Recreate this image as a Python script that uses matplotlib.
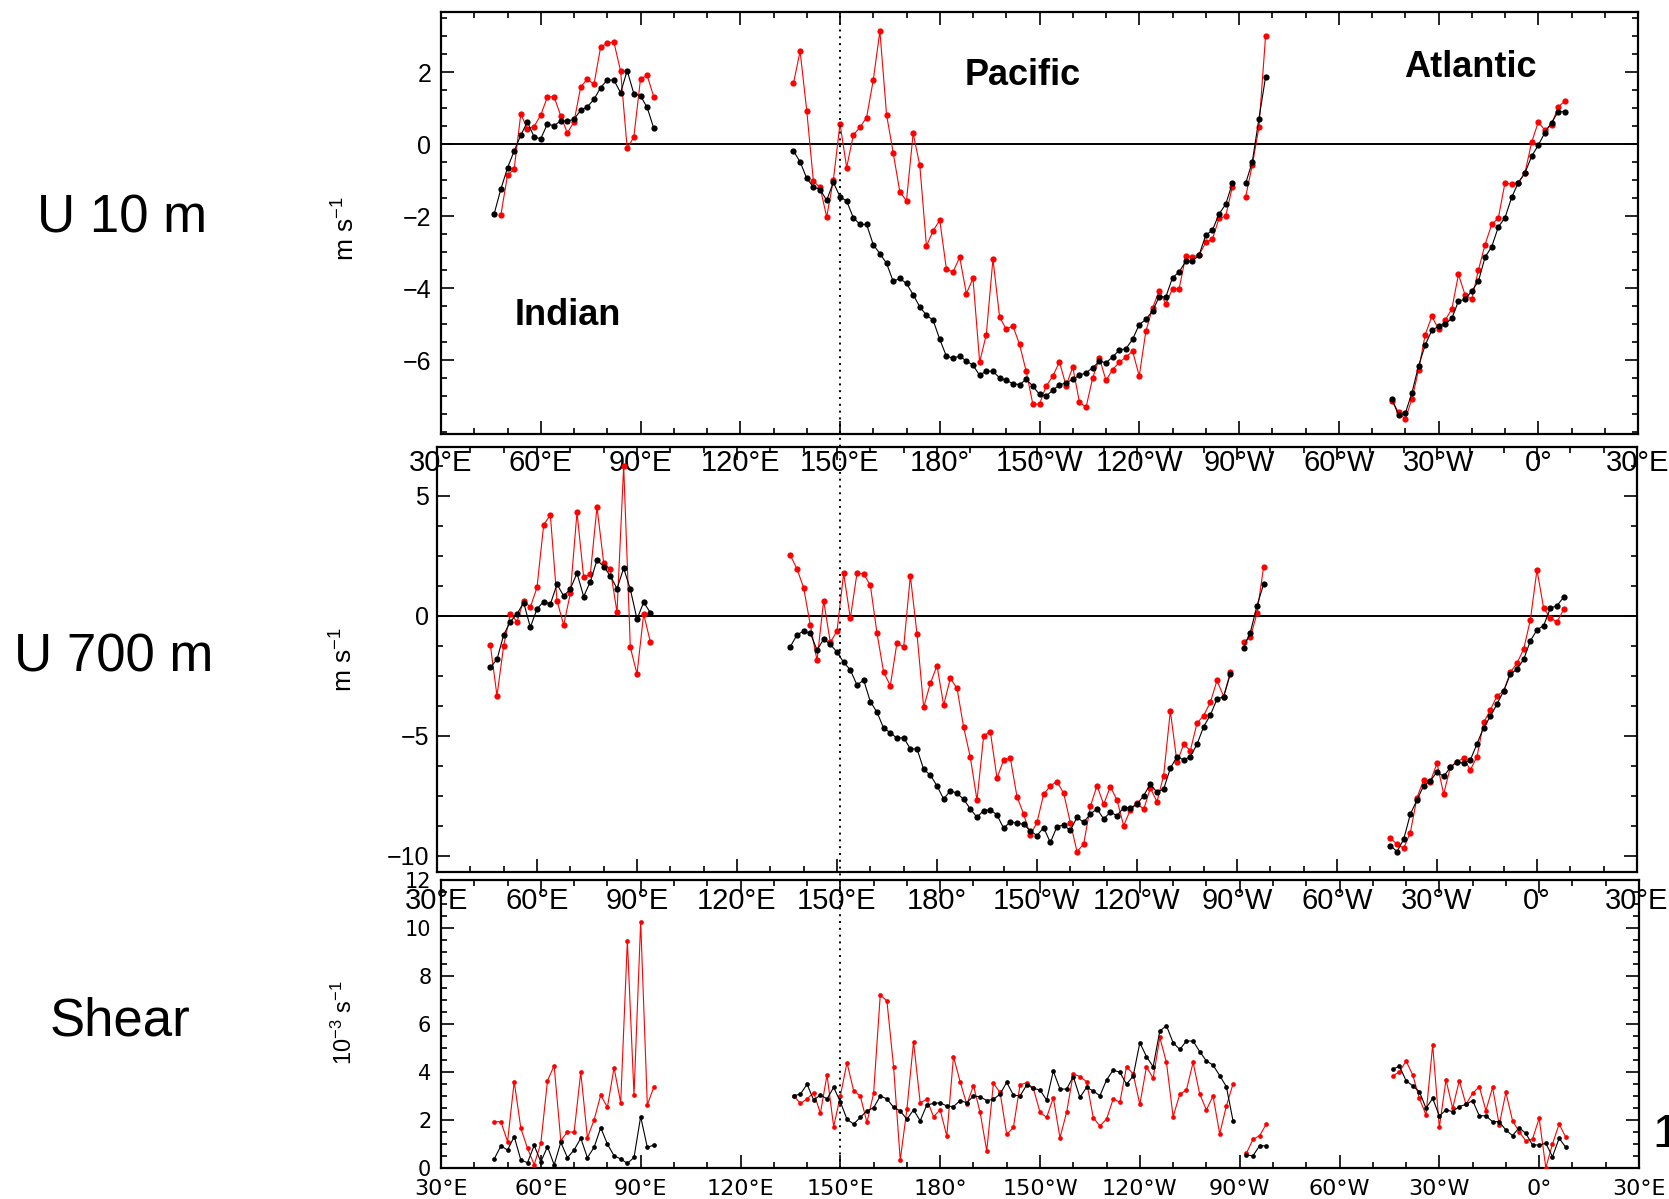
"""
Zonal wind at 10 m, 700 m and vertical shear along the equator
"""
import numpy as np
import matplotlib
matplotlib.use("Agg")
import matplotlib.pyplot as plt
import matplotlib.transforms as mtransforms
from matplotlib.lines import Line2D
from matplotlib.ticker import MultipleLocator, FixedLocator

nan = np.nan

# longitudes (degrees east, 0-360 + wrap to 390)
lon_ind = np.arange(46, 96, 2)
lon_pac = np.arange(136, 280, 2)   # 270 is missing (NaN in the series)
lon_atl = np.arange(316, 370, 2)

lon_ticks = [30, 60, 90, 120, 150, 180, 210, 240, 270, 300, 330, 360, 390]
lon_labels = ["30°E", "60°E", "90°E", "120°E", "150°E", "180°", "150°W",
              "120°W", "90°W", "60°W", "30°W", "0°", "30°E"]

u10_yticks = [-6, -4, -2, 0, 2]
u700_yticks = [-10, -5, 0, 5]
shr_yticks = [0, 2, 4, 6, 8, 10, 12]

# ---- U 10 m -------------------------------------------------------------
u10_ind_blk = [-1.93, -1.25, -0.66, -0.19, 0.25, 0.62, 0.20, 0.15, 0.56, 0.51, 0.65, 0.64, 0.69,
               0.94, 1.04, 1.24, 1.57, 1.78, 1.78, 1.43, 2.04, 1.40, 1.34, 1.02, 0.44]
u10_ind_red = [nan, -1.97, -0.86, -0.69, 0.84, 0.42, 0.49, 0.81, 1.31, 1.32, 0.79, 0.31, 0.62,
               1.58, 1.81, 1.66, 2.69, 2.81, 2.83, 2.04, -0.12, 0.20, 1.81, 1.91, 1.31]
u10_pac_blk = [-0.19, -0.49, -0.95, -1.19, -1.26, -1.56, -1.06, -1.46, -1.58, -2.04, -2.23, -2.23,
               -2.79, -3.04, -3.31, -3.81, -3.73, -3.87, -4.18, -4.52, -4.75, -4.89, -5.42, -5.89,
               -5.94, -5.89, -6.02, -6.14, -6.42, -6.30, -6.31, -6.49, -6.56, -6.65, -6.68, -6.53,
               -6.72, -6.95, -7.00, -6.83, -6.69, -6.63, -6.53, -6.42, -6.35, -6.21, -6.03, -6.07,
               -5.91, -5.72, -5.68, -5.42, -5.01, -4.87, -4.63, -4.24, -4.24, -3.71, -3.55, -3.25,
               -3.25, -3.08, -2.53, -2.39, -1.94, -1.67, -1.09, nan, -1.09, -0.49, 0.71, 1.87]
u10_pac_red = [1.69, 2.58, 0.93, -1.03, -1.20, -2.02, -1.00, 0.57, -0.65, 0.25, 0.47, 0.74,
               1.78, 3.14, 0.82, -0.24, -1.33, -1.57, 0.30, -0.59, -2.83, -2.41, -2.11, -3.47,
               -3.55, -3.14, -4.15, -3.73, -6.05, -5.29, -3.19, -4.80, -5.14, -5.05, -5.56, -6.31,
               -7.22, -7.22, -6.72, -6.44, -6.05, -6.71, -6.19, -7.16, -7.31, -6.49, -5.94, -6.56,
               -6.26, -6.06, -5.91, -5.75, -6.44, -5.19, -4.55, -4.07, -4.44, -4.02, -4.01, -3.10,
               -3.13, -3.08, -2.73, -2.64, -2.06, -2.00, -1.19, nan, -1.46, -0.58, 0.47, 3.01]
u10_atl_blk = [-7.08, -7.53, -7.48, -6.91, -6.16, -5.58, -5.17, -5.06, -5.00, -4.84, -4.36, -4.31,
               -4.08, -3.81, -3.14, -2.85, -2.30, -2.04, -1.48, -1.07, -0.80, -0.34, -0.03, 0.32,
               0.60, 0.90, 0.90]
u10_atl_red = [-7.13, -7.45, -7.64, -7.08, -6.28, -5.29, -4.78, -5.14, -4.89, -4.58, -3.62, -4.19,
               -4.31, -3.50, -2.79, -2.23, -2.05, -1.07, -1.12, -1.07, -0.80, 0.05, 0.61, 0.39,
               0.53, 1.04, 1.19]

# ---- U 700 m ------------------------------------------------------------
u700_ind_blk = [-2.14, -1.81, -0.79, -0.24, 0.08, 0.56, -0.47, 0.29, 0.60, 0.49, 1.32, 0.83, 1.13,
                1.78, 0.81, 1.43, 2.33, 2.06, 1.67, 1.14, 1.99, 1.11, -0.13, 0.57, 0.14]
u700_ind_red = [-1.21, -3.33, -1.24, 0.08, -0.24, 0.64, 0.36, 1.19, 3.79, 4.21, 0.64, -0.38, 0.94,
                4.32, 1.61, 1.74, 4.54, 2.22, 1.94, 0.15, 6.25, -1.31, -2.42, 0.08, -1.08]
u700_pac_blk = [-1.28, -0.79, -0.63, -0.72, -1.42, -0.97, -1.18, -1.51, -1.93, -2.25, -2.88, -2.67,
                -3.57, -4.01, -4.68, -4.86, -5.10, -5.07, -5.54, -5.54, -6.39, -6.63, -7.08, -7.63,
                -7.28, -7.39, -7.64, -8.04, -8.39, -8.11, -8.08, -8.29, -8.85, -8.57, -8.64, -8.68,
                -8.96, -9.15, -8.82, -9.44, -8.78, -8.71, -8.94, -8.39, -8.60, -8.25, -8.04, -8.46,
                -8.18, -8.32, -7.99, -7.99, -7.85, -7.49, -7.00, -7.35, -7.21, -6.35, -5.86, -6.00,
                -5.86, -5.35, -4.61, -4.13, -3.47, -3.36, -2.42, nan, -1.32, -0.69, 0.43, 1.33]
u700_pac_red = [2.53, 1.96, 1.17, -0.38, -1.85, 0.63, -1.10, -0.63, 1.78, -0.10, 1.78, 1.75,
                1.28, -0.72, -2.35, -2.90, -1.11, -1.31, 1.67, -0.75, -3.81, -2.81, -2.07, -3.72,
                -2.60, -3.01, -4.64, -5.89, -7.68, -4.99, -4.82, -6.76, -6.00, -5.93, -7.53, -8.26,
                -9.13, -8.60, -7.43, -7.08, -6.90, -7.39, -8.61, -9.82, -9.51, -7.94, -7.07, -7.85,
                -7.11, -7.67, -8.74, -8.08, -7.81, -8.06, -7.18, -7.74, -6.65, -3.96, -6.10, -5.35,
                -5.61, -4.47, -4.15, -3.60, -2.69, -3.36, -2.35, nan, -1.07, -0.89, 0.11, 2.06]
u700_atl_blk = [-9.57, -9.82, -9.31, -8.26, -7.67, -7.07, -6.88, -6.49, -6.69, -6.31, -6.07, -6.14,
                -6.00, -5.33, -4.65, -4.19, -3.67, -3.13, -2.43, -2.22, -1.81, -1.04, -0.58, -0.40,
                0.32, 0.43, 0.78]
u700_atl_red = [-9.26, -9.51, -9.68, -9.03, -7.57, -6.83, -6.90, -6.14, -7.42, -6.31, -6.07, -5.93,
                -6.42, -5.86, -4.44, -3.92, -3.33, -3.13, -2.35, -1.97, -1.38, -0.17, 1.92, 0.32,
                -0.07, -0.26, 0.28]

# ---- Shear (10^-3 s^-1) -------------------------------------------------
shr_ind_blk = [0.38, 0.92, 0.75, 1.31, 0.33, 0.22, 0.94, 0.26, 0.89, 0.13, 1.07, 0.43, 0.75,
               1.24, 0.43, 0.86, 1.68, 1.00, 0.51, 0.38, 0.19, 0.44, 2.14, 0.86, 0.96]
shr_ind_red = [1.93, 1.93, 1.10, 3.60, 1.65, 0.82, 0.14, 1.03, 3.64, 4.26, 1.14, 1.51, 1.49,
               3.99, 1.26, 2.00, 3.04, 2.53, 4.18, 2.72, 9.47, 3.04, 10.26, 2.63, 3.39]
shr_pac_blk = [3.01, 3.08, 3.49, 2.83, 3.04, 2.88, 3.36, 2.76, 2.03, 1.83, 2.11, 2.38,
               2.51, 3.00, 2.88, 2.53, 2.38, 2.03, 2.42, 1.97, 2.63, 2.69, 2.72, 2.58,
               2.56, 2.81, 2.72, 3.00, 2.97, 2.81, 2.86, 3.08, 3.57, 3.04, 3.00, 3.46,
               3.32, 3.25, 2.83, 4.04, 3.29, 3.29, 3.81, 2.94, 3.36, 3.21, 3.01, 3.67,
               4.08, 3.99, 3.49, 3.83, 5.22, 4.64, 4.22, 5.71, 5.93, 5.22, 4.94, 5.29,
               5.29, 4.85, 4.46, 4.29, 3.85, 3.39, 1.97, nan, 0.54, 0.51, 0.93, 0.92]
shr_pac_red = [3.01, 2.69, 2.88, 3.14, 2.28, 3.88, 1.72, 3.00, 4.39, 3.22, 3.00, 1.90,
               3.11, 7.21, 6.96, 4.22, 0.33, 2.44, 5.26, 2.72, 2.86, 2.14, 2.42, 1.33,
               4.64, 3.60, 2.65, 3.43, 2.32, 0.71, 3.53, 3.15, 1.40, 1.69, 3.46, 3.56,
               3.32, 2.32, 2.11, 2.93, 1.26, 2.32, 3.92, 3.81, 3.60, 2.10, 1.75, 2.04,
               2.88, 2.74, 4.22, 3.92, 2.65, 4.22, 3.74, 5.44, 4.40, 2.14, 3.07, 3.25,
               4.40, 3.08, 2.42, 3.00, 1.42, 2.58, 3.50, nan, 0.61, 1.19, 1.35, 1.83]
shr_atl_blk = [4.11, 4.25, 3.64, 3.42, 3.18, 2.49, 2.90, 2.17, 2.42, 2.35, 2.56, 2.65, 2.81,
               2.18, 2.17, 1.93, 1.93, 1.58, 1.35, 1.68, 1.44, 0.96, 0.96, 1.03, 0.47, 1.24, 0.86]
shr_atl_red = [3.83, 4.01, 4.46, 3.88, 2.90, 2.21, 5.13, 1.69, 3.67, 2.49, 3.64, 2.65, 3.11,
               3.39, 2.39, 3.36, 1.79, 3.15, 1.97, 1.51, 1.13, 1.21, 2.07, 0.01, 1.00, 1.83, 1.28]


W, H = 1669, 1199


def px_axes(fig, left, top, right, bottom):
    """Axes from pixel box (top-left origin)"""
    ax = fig.add_axes([left / W, 1 - bottom / H, (right - left) / W, (bottom - top) / H])
    ax.patch.set_visible(False)   # tick labels of the panel above run over this one
    return ax


def style_axes(ax, ylim, yticks, yminor, xfont, xpad, yfont, ypad):
    ax.set_xlim(30, 390)
    ax.set_ylim(*ylim)
    ax.set_xticks(lon_ticks)
    ax.set_xticklabels(lon_labels, fontsize=xfont[1], family=xfont[0])
    ax.xaxis.set_minor_locator(MultipleLocator(10))
    ax.yaxis.set_major_locator(FixedLocator(yticks))
    ax.yaxis.set_minor_locator(MultipleLocator(yminor))
    ax.set_yticklabels([str(t).replace("-", "\u2212") for t in yticks],
                       fontsize=yfont[1], family=yfont[0])
    ax.tick_params(which="both", direction="in", top=True, right=True, width=1.2, color="black")
    ax.tick_params(which="major", length=9.5)
    ax.tick_params(which="minor", length=4.5)
    ax.tick_params(axis="x", pad=xpad)
    ax.tick_params(axis="y", pad=ypad)
    for sp in ax.spines.values():
        sp.set_linewidth(1.6)


def plot_series(ax, blk, red, ms):
    for lon, vals in zip((lon_ind, lon_pac, lon_atl), red):
        ax.plot(lon, vals, "-o", color="red", lw=0.8, ms=ms, mew=0, zorder=3)
    for lon, vals in zip((lon_ind, lon_pac, lon_atl), blk):
        ax.plot(lon, vals, "-o", color="black", lw=0.8, ms=ms, mew=0, zorder=4)


def main():
    plt.rcParams["font.family"] = ["Liberation Sans", "DejaVu Sans"]
    plt.rcParams["mathtext.fontset"] = "custom"
    plt.rcParams["mathtext.rm"] = "Liberation Sans"
    plt.rcParams["mathtext.it"] = "Liberation Sans"

    fig = plt.figure(figsize=(W / 100, H / 100), dpi=100)

    ax1 = px_axes(fig, 441, 12, 1638, 434)
    ax2 = px_axes(fig, 437, 447, 1637, 872)
    ax3 = px_axes(fig, 441, 880, 1639, 1168)

    # U 10 m
    plot_series(ax1, (u10_ind_blk, u10_pac_blk, u10_atl_blk),
                (u10_ind_red, u10_pac_red, u10_atl_red), ms=4.5)
    ax1.axhline(0, color="black", lw=1.4, zorder=2)
    style_axes(ax1, (-8.05, 3.67), u10_yticks, 0.5,
               ("Liberation Sans", 21), 11, ("Liberation Sans", 18), 7)
    ax1.text(68, -5.03, "Indian", fontsize=26, fontweight="bold", ha="center", va="baseline")
    ax1.text(205, 1.64, "Pacific", fontsize=26, fontweight="bold", ha="center", va="baseline")
    ax1.text(339.5, 1.86, "Atlantic", fontsize=26, fontweight="bold", ha="center", va="baseline")

    # U 700 m
    plot_series(ax2, (u700_ind_blk, u700_pac_blk, u700_atl_blk),
                (u700_ind_red, u700_pac_red, u700_atl_red), ms=4.5)
    ax2.axhline(0, color="black", lw=1.4, zorder=2)
    style_axes(ax2, (-10.67, 7.04), u700_yticks, 1.25,
               ("Liberation Sans", 21), 11, ("Liberation Sans", 18), 5.5)

    # Shear
    plot_series(ax3, (shr_ind_blk, shr_pac_blk, shr_atl_blk),
                (shr_ind_red, shr_pac_red, shr_atl_red), ms=3.4)
    style_axes(ax3, (0, 12), shr_yticks, 0.5,
               ("DejaVu Sans", 16), 8, ("DejaVu Sans", 15), 7)

    # dotted line at 150E through all panels
    trans = mtransforms.blended_transform_factory(ax1.transData, fig.transFigure)
    fig.add_artist(Line2D([150, 150], [1 - 1168 / H, 1 - 12 / H], transform=trans,
                          color="black", lw=1.4, linestyle=(0, (1, 2.5)), zorder=10))

    # row labels
    fig.text(122 / W, 1 - 218 / H, "U 10 m", fontsize=38, ha="center", va="center")
    fig.text(114 / W, 1 - 658 / H, "U 700 m", fontsize=38, ha="center", va="center")
    fig.text(120 / W, 1 - 1022 / H, "Shear", fontsize=38, ha="center", va="center")

    # y axis units
    fig.text(346 / W, 1 - 229 / H, r"m s$^{-1}$", fontsize=19, rotation=90,
             ha="center", va="center")
    fig.text(344 / W, 1 - 660 / H, r"m s$^{-1}$", fontsize=19, rotation=90,
             ha="center", va="center")
    fig.text(344 / W, 1 - 1023 / H, r"10$^{-3}$ s$^{-1}$", fontsize=17, rotation=90,
             ha="center", va="center")

    # stray panel number at the right edge
    fig.text(1652 / W, 1 - 1147 / H, "1", fontsize=34, ha="left", va="baseline")

    fig.savefig("out.png", dpi=100)


if __name__ == "__main__":
    main()
